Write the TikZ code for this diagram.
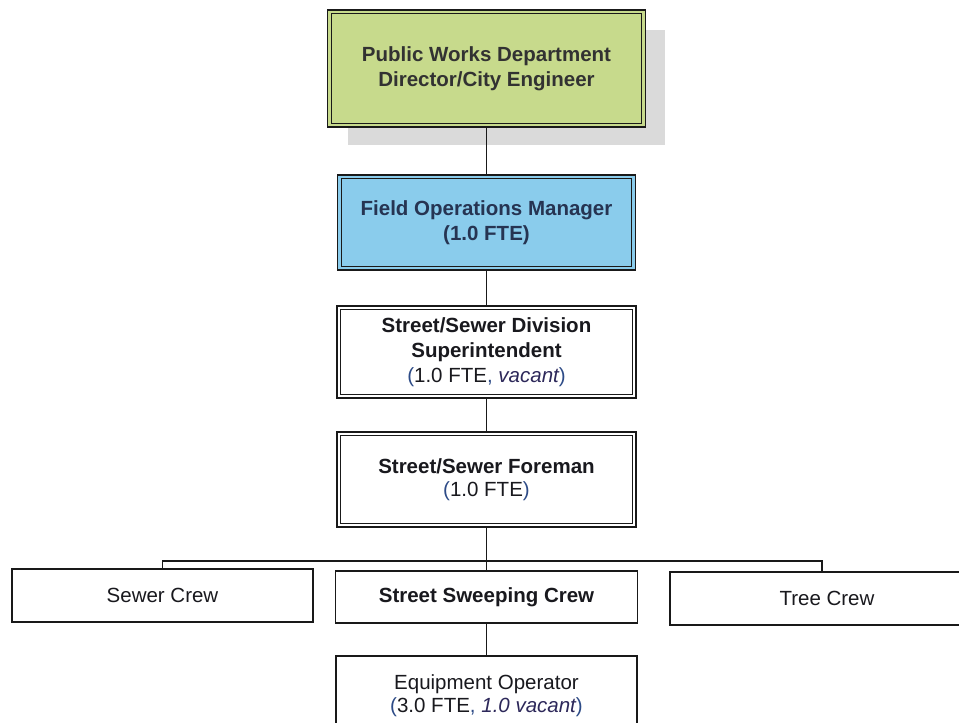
\documentclass[tikz,border=0pt]{standalone}
\usepackage{fontspec}
\setmainfont{Liberation Sans}
\definecolor{boxgreen}{RGB}{199,218,140}
\definecolor{boxblue}{RGB}{138,204,236}
\definecolor{shadowgray}{RGB}{218,218,218}
\definecolor{txtgray}{RGB}{50,50,50}
\definecolor{txtnavy}{RGB}{38,52,82}
\definecolor{parblue}{RGB}{45,75,135}
\definecolor{italnavy}{RGB}{45,40,90}
\definecolor{linegray}{RGB}{25,25,25}
\definecolor{txtdark}{RGB}{25,25,30}
\newcommand{\pb}[1]{{\color{parblue}#1}}
\begin{document}
\begin{tikzpicture}[x=1pt,y=-1pt,
  base/.style={align=center, inner sep=0pt, text=txtdark,
    font=\fontsize{20.5}{25}\selectfont},
  dblbox/.style={base, draw=linegray, line width=1.7pt},
  sglbox/.style={base, draw=linegray, line width=1.2pt},
  inner/.style={draw=linegray, line width=0.8pt},
  conn/.style={draw=linegray, line width=1.4pt}]
\clip (0,0) rectangle (959,723);
\fill[white] (0,0) rectangle (959,723);
% shadow
\fill[shadowgray] (348,30) rectangle (665,145);
% top boxes
\node[dblbox, fill=boxgreen, text=txtgray, minimum width=318pt, minimum height=117pt]
  (dir) at (486.5,68.5) {\bfseries Public Works Department\\\bfseries Director/City Engineer};
\node[dblbox, fill=boxblue, text=txtnavy, minimum width=298pt, minimum height=95pt]
  (fom) at (486.5,222.5) {\bfseries Field Operations Manager\\\bfseries (1.0 FTE)};
\node[dblbox, fill=white, minimum width=299pt, minimum height=92pt]
  (sup) at (486.5,352) {\bfseries Street/Sewer Division\\\bfseries Superintendent\\
  \pb{(}1.0 FTE\pb{,} {\color{italnavy}\itshape vacant}\pb{)}};
\node[dblbox, fill=white, minimum width=299pt, minimum height=95pt]
  (fore) at (486.5,479.5) {\bfseries Street/Sewer Foreman\\[-2pt]
  \pb{(}1.0 FTE\pb{)}};
\foreach \n in {dir,fom,sup,fore}{
  \draw[inner] ([shift={(4.5,4.5)}]\n.north west) rectangle ([shift={(-4.5,-4.5)}]\n.south east);
}
% crews
\node[sglbox, minimum width=301pt, minimum height=53pt] (sewer) at (162.5,595.5) {Sewer Crew};
\node[sglbox, minimum width=302pt, minimum height=52pt] (sweep) at (486.5,597) {\bfseries Street Sweeping Crew};
\node[sglbox, minimum width=304pt, minimum height=53pt] (tree) at (822,598.5) {\hspace{10pt}Tree Crew};
\node[sglbox, minimum width=301pt, minimum height=80pt] (equip) at (486.5,696)
  {Equipment Operator\\[-2pt]\pb{(}3.0 FTE\pb{,} {\color{italnavy}\itshape 1.0 vacant}\pb{)}};
% connectors
\coordinate (bus) at (486.5,561);
\draw[conn] (dir.south) -- (fom.north);
\draw[conn] (fom.south) -- (sup.north);
\draw[conn] (sup.south) -- (fore.north);
\draw[conn] (fore.south) -- (sweep.north);
\draw[conn] (sewer.north) |- (bus) -| (tree.north);
\draw[conn] (sweep.south) -- (equip.north);
\end{tikzpicture}
\end{document}
